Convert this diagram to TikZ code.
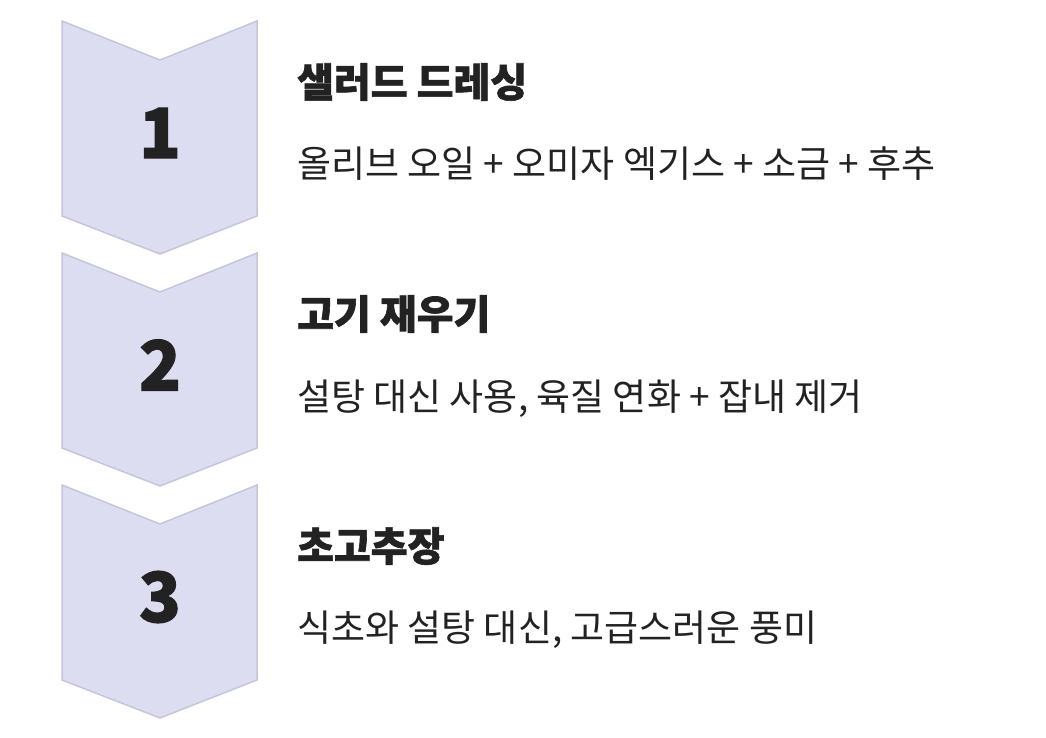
\documentclass[tikz,border=0pt]{standalone}
\usepackage{fontspec}
\setmainfont[BoldFeatures={FakeBold=1.6}]{Noto Sans CJK KR}
\definecolor{chevfill}{HTML}{DCDDF0}
\definecolor{chevline}{HTML}{C4C6DE}
\definecolor{ink}{HTML}{222222}
\begin{document}
\begin{tikzpicture}[x=1pt, y=-1pt,
  chev/.style={fill=chevfill, draw=chevline, line width=1.5pt, line join=miter},
  num/.style={inner sep=0, text=ink, font=\fontsize{69}{69}\selectfont\bfseries},
  title/.style={inner sep=0, anchor=base west, text=ink, font=\fontsize{40}{40}\selectfont\bfseries},
  body/.style={inner sep=0, anchor=base west, text=ink, font=\fontsize{37}{37}\selectfont}]
\useasboundingbox (0,0) rectangle (1046,738);
\draw[chev] (62,21) -- (160,60) -- (257,21) -- (257,216) -- (160,254) -- (62,216) -- cycle;
\draw[chev] (62,253) -- (160,292) -- (257,253) -- (257,448) -- (160,486) -- (62,448) -- cycle;
\draw[chev] (62,485) -- (160,524) -- (257,485) -- (257,680) -- (160,718) -- (62,680) -- cycle;
\node[num] (n1) at (160,133){1};
\node[num] (n2) at (160,365){2};
\node[num] (n3) at (160,597){3};
\node[title] (t1) at (297,97){샐러드 드레싱};
\node[body] (b1) at (297,178){올리브 오일 + 오미자 엑기스 + 소금 + 후추};
\node[title] (t2) at (297,329){고기 재우기};
\node[body] (b2) at (297,410){설탕 대신 사용, 육질 연화 + 잡내 제거};
\node[title] (t3) at (297,561){초고추장};
\node[body] (b3) at (297,641){식초와 설탕 대신, 고급스러운 풍미};

\end{tikzpicture}
\end{document}
